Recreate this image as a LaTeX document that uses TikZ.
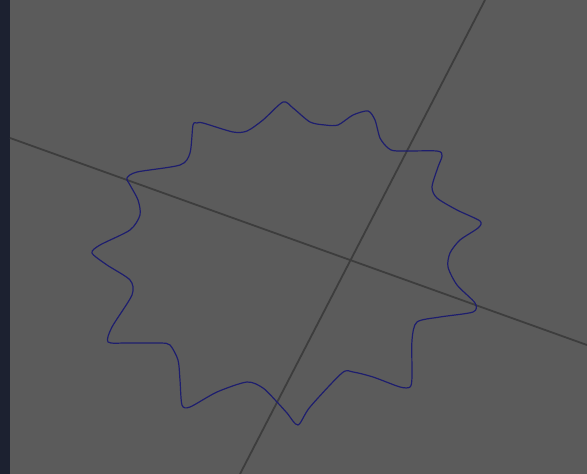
\documentclass[tikz,border=0pt]{standalone}
\usepackage{tikz}
\usetikzlibrary{calc}
\definecolor{bgGray}{HTML}{5B5B5B}
\definecolor{sideBar}{HTML}{1C2130}
\definecolor{axisGray}{HTML}{3D3D3D}
\definecolor{curveBlue}{HTML}{1E1E6E}
\tikzset{
  axisline/.style={
    draw = axisGray,
    line width = 1.8pt
  },
  outline/.style={
    draw = curveBlue,
    line width = 1.2pt,
    line join = round
  }
}

\begin{document}
\begin{tikzpicture}[x=1pt,y=-1pt]
        \useasboundingbox (0,0) rectangle (587,474);
        \fill[bgGray] (0,0) rectangle (587,474);
        \fill[sideBar] (0,0) rectangle (10,474);

        % the two axes
        \coordinate (h1) at (10,138);
        \coordinate (h2) at (587,345);
        \coordinate (v1) at (485,0);
        \coordinate (v2) at (240,474);
        \draw[axisline] (h1) -- (h2);
        \draw[axisline] (v1) -- (v2);

        % wavy outline
        \draw[outline] plot[smooth cycle, tension=0.45] coordinates {
          (283,102) (293,108) (310,122) (325,125) (338,125) (353,115)
          (368,111) (375,120) (380,138) (388,148) (397,151) (437,151)
          (442,156) (438,167) (432,187) (437,198) (457,210) (480,221)
          (478,228) (460,240) (450,253) (448,267) (457,285) (475,303)
          (473,312) (440,317) (417,322) (412,340) (412,377) (410,387)
          (400,387) (373,377) (353,372) (342,373) (310,407) (298,425)
          (287,413) (277,402) (263,388) (247,382) (217,392) (190,407)
          (182,405) (180,380) (178,360) (170,345) (160,343) (127,343)
          (108,342) (112,327) (132,295) (130,280) (107,265) (92,253)
          (100,245) (130,230) (140,215) (138,200) (130,185) (127,178)
          (137,172) (180,165) (190,153) (193,125) (197,123) (203,123)
          (233,132) (247,131) (263,120)
        };
\end{tikzpicture}
\end{document}
